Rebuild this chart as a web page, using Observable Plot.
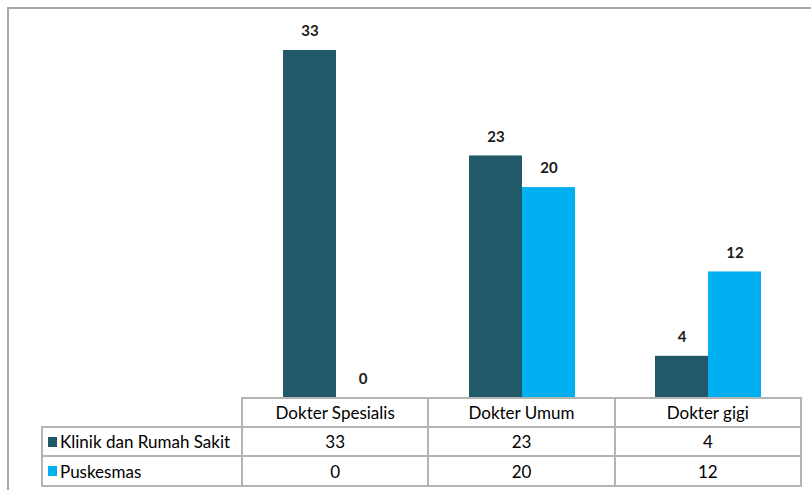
<!DOCTYPE html>
<html>
<head>
<meta charset="utf-8">
<script src="https://cdn.jsdelivr.net/npm/d3@7"></script>
<script src="https://cdn.jsdelivr.net/npm/@observablehq/plot@0.6"></script>
<style>
  html, body { margin: 0; padding: 0; background: #fff; }
  #wrap { position: relative; width: 811px; height: 490px; overflow: hidden; font-family: Lato, "Open Sans", sans-serif; }
  #frame { position: absolute; left: 7px; top: 7px; width: 900px; height: 600px; border-left: 2px solid #a8a8a8; border-top: 2px solid #a8a8a8; box-sizing: border-box; }
  #chart { position: absolute; left: 0; top: 0; }
  .cell { position: absolute; box-sizing: border-box; display: flex; align-items: center; justify-content: center; font-size: 17px; color: #000; }
  .hl { position: absolute; background: #b4b4b4; }
  .sw { display: inline-block; width: 9px; height: 10px; margin-right: 3px; }
</style>
</head>
<body>
<div id="wrap">
  <div id="frame"></div>
  <div id="chart"></div>
  <div id="table"></div>
</div>
<script>
const categories = ["Dokter Spesialis", "Dokter Umum", "Dokter gigi"];
const series = ["Klinik dan Rumah Sakit", "Puskesmas"];
const klinikValues = [33, 23, 4];
const puskesmasValues = [0, 20, 12];
const colors = ["#215968", "#00b0f0"];

const data = [];
categories.forEach((c, i) => {
  data.push({category: c, series: series[0], value: klinikValues[i]});
  data.push({category: c, series: series[1], value: puskesmasValues[i]});
});

const W = 811, H = 398, ML = 242, MR = 10;
const chart = Plot.plot({
  width: W, height: H,
  marginLeft: ML, marginRight: MR, marginTop: 0, marginBottom: 0,
  style: {background: "transparent", fontFamily: "Lato, sans-serif"},
  fx: {domain: categories, padding: 0, axis: null},
  x: {domain: series, paddingInner: 0, paddingOuter: 0.745, axis: null},
  y: {domain: [0, 33 * 398 / 348], axis: null},
  color: {domain: series, range: colors},
  marks: [
    Plot.barY(data, {fx: "category", x: "series", y: "value", fill: "series"}),
    Plot.text(data, {fx: "category", x: "series", y: "value", text: d => String(d.value), dy: -19, fontSize: 15, fontWeight: "bold", fill: "#1a1a1a"})
  ]
});
document.getElementById("chart").appendChild(chart);

// Data table below the plot
const tbl = document.getElementById("table");
const colX = d3.range(categories.length + 1).map(i => ML + i * (W - ML - MR) / categories.length);
const rowY = [398, 427, 456, 486];
const labelLeft = 42;
const lw = 2;
function line(x, y, w, h) {
  const d = document.createElement("div");
  d.className = "hl";
  Object.assign(d.style, {left: x + "px", top: y + "px", width: w + "px", height: h + "px"});
  tbl.appendChild(d);
}
function cell(x, y, w, h, html, align) {
  const d = document.createElement("div");
  d.className = "cell";
  Object.assign(d.style, {left: x + "px", top: y + "px", width: w + "px", height: h + "px"});
  if (align === "left") { d.style.justifyContent = "flex-start"; d.style.paddingLeft = "6px"; }
  d.innerHTML = html;
  tbl.appendChild(d);
}
categories.forEach((c, i) => cell(colX[i], rowY[0], colX[i+1] - colX[i], rowY[1] - rowY[0], c));
const rows = [klinikValues, puskesmasValues];
rows.forEach((vals, r) => {
  cell(labelLeft, rowY[r+1], ML - labelLeft, rowY[r+2] - rowY[r+1],
       `<span class="sw" style="background:${colors[r]}"></span>${series[r]}`, "left");
  vals.forEach((v, i) => cell(colX[i], rowY[r+1], colX[i+1] - colX[i], rowY[r+2] - rowY[r+1], String(v)));
});
line(ML - 1, rowY[0] - 1, colX[3] - ML + 2, lw);
line(labelLeft - 1, rowY[1] - 1, colX[3] - labelLeft + 2, lw);
line(labelLeft - 1, rowY[2] - 1, colX[3] - labelLeft + 2, lw);
line(labelLeft - 1, rowY[3] - 1, colX[3] - labelLeft + 2, lw);
colX.forEach(x => line(x - 1, rowY[0] - 1, lw, rowY[3] - rowY[0] + 2));
line(labelLeft - 1, rowY[1] - 1, lw, rowY[3] - rowY[1] + 2);
</script>
</body>
</html>
